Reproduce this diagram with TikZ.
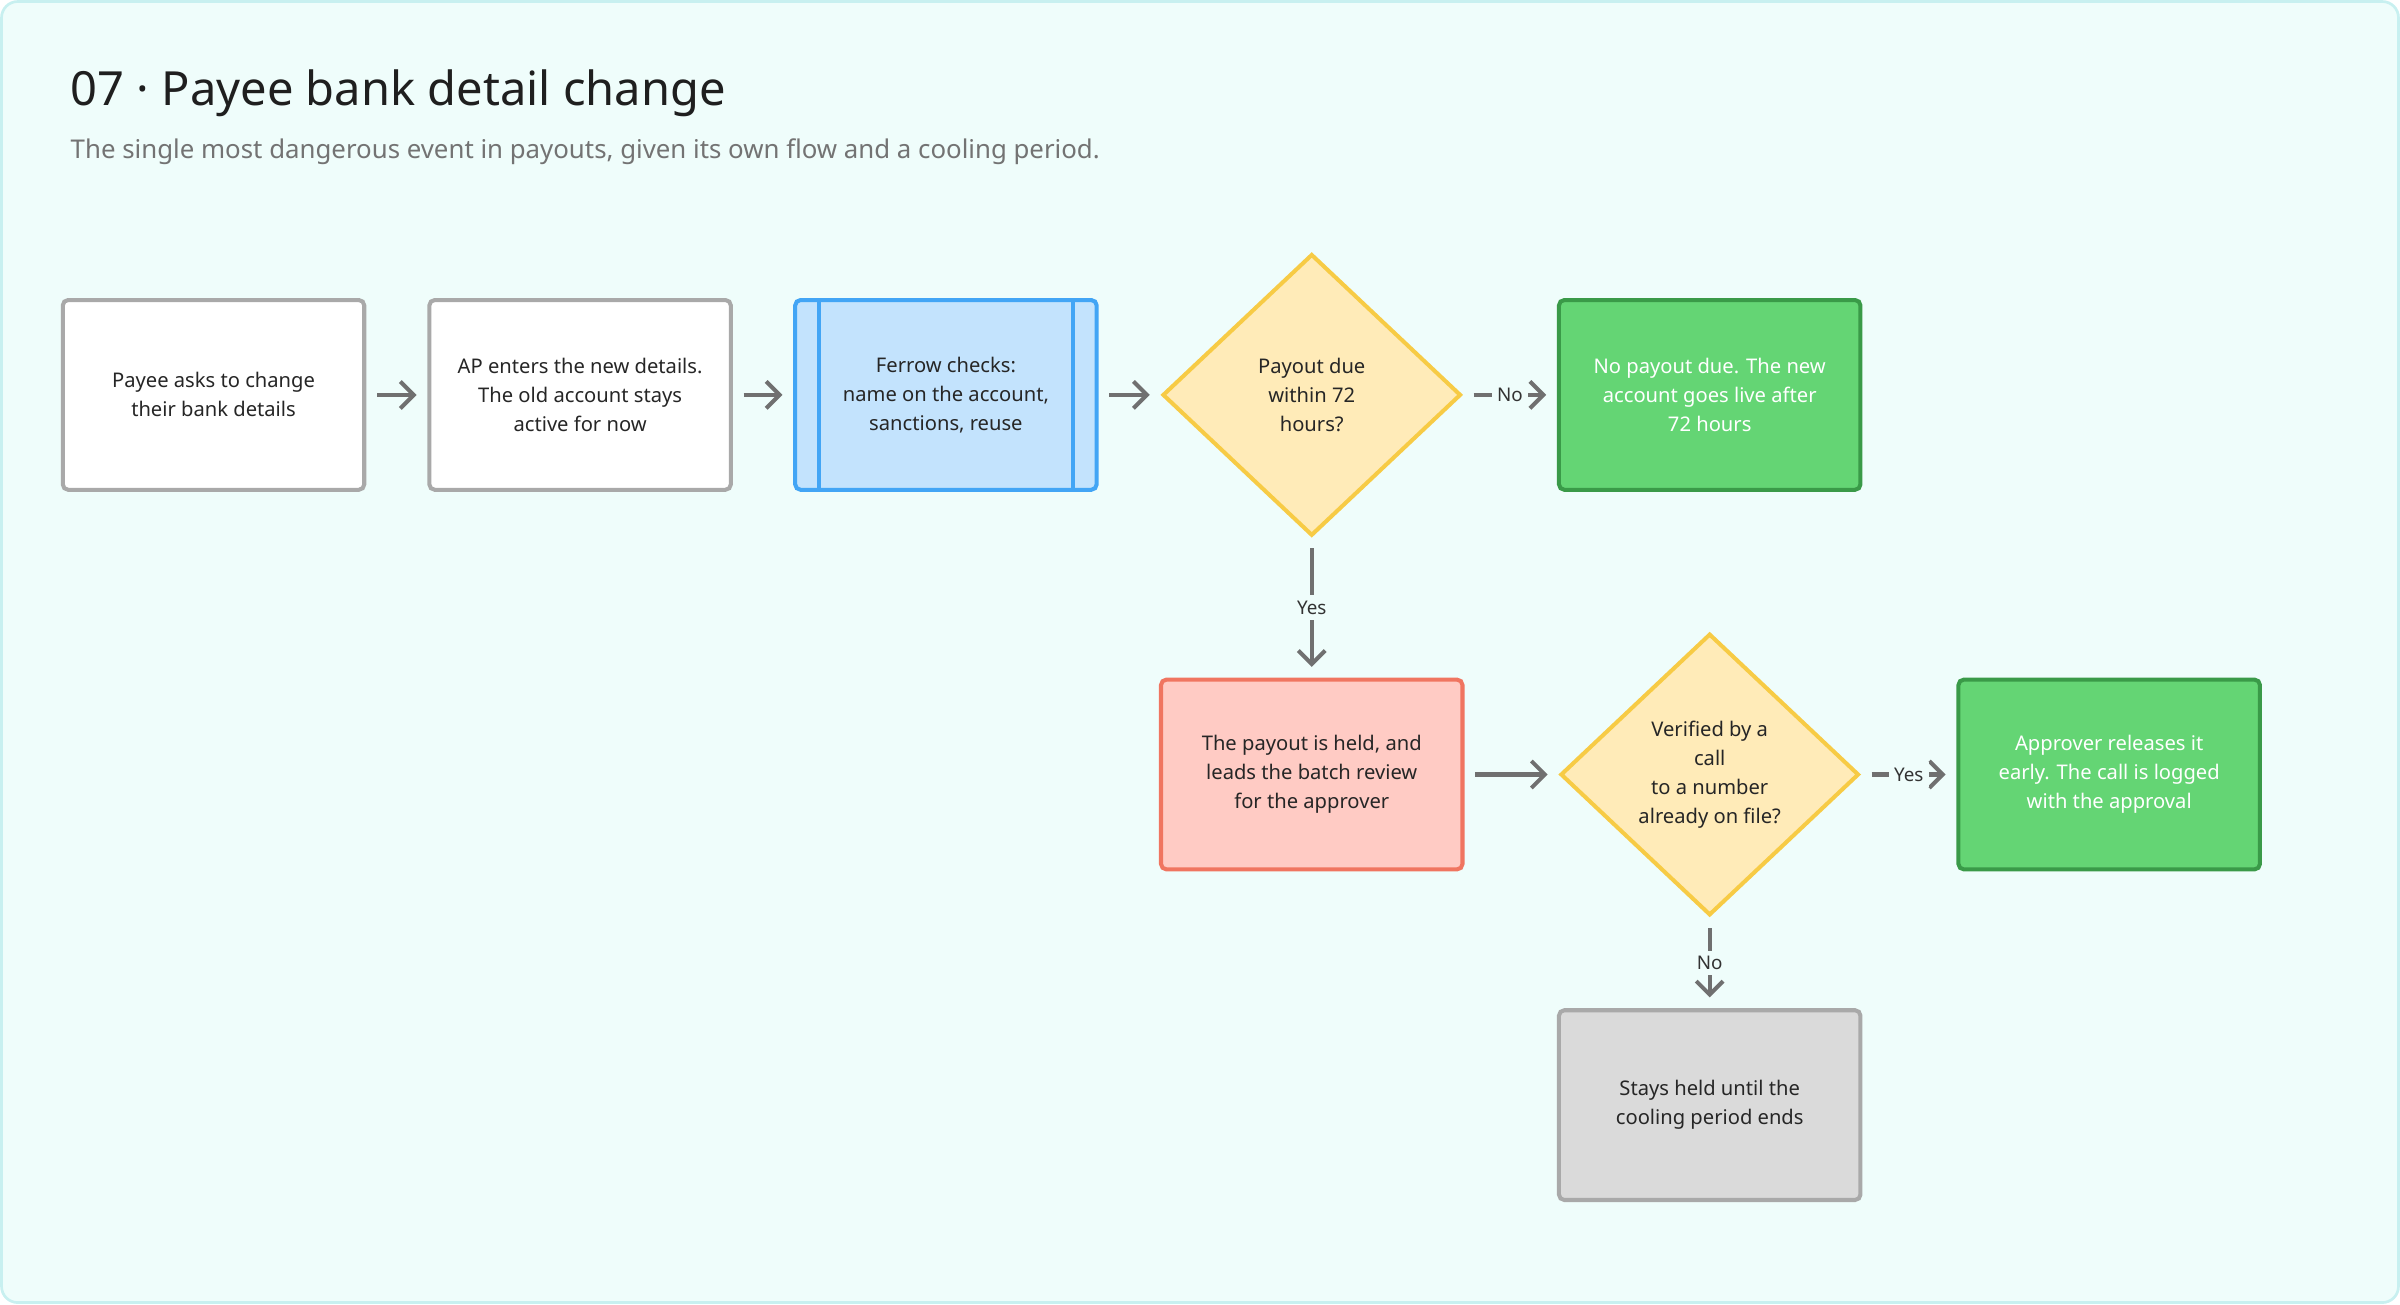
\documentclass[tikz,border=0pt]{standalone}
\usepackage{fontspec}
\setmainfont{Noto Sans}
\usetikzlibrary{shapes.geometric,arrows.meta}
\definecolor{bgc}{HTML}{EFFDFB}
\definecolor{bgline}{HTML}{C8F0F0}
\definecolor{arr}{HTML}{707070}
\definecolor{bluef}{HTML}{C3E3FD}
\definecolor{blued}{HTML}{42A5F5}
\definecolor{yelf}{HTML}{FFEBB8}
\definecolor{yeld}{HTML}{F7CB45}
\definecolor{grnf}{HTML}{64D574}
\definecolor{grnd}{HTML}{3A9A48}
\definecolor{redf}{HTML}{FFCBC4}
\definecolor{redd}{HTML}{F07560}
\definecolor{gryf}{HTML}{DADADA}
\definecolor{gryd}{HTML}{A9A9A9}
\definecolor{subc}{HTML}{737373}
\tikzset{
  box/.style={rectangle,rounded corners=2pt,line width=1.5pt,draw=gryd,fill=white,
    minimum width=3.94cm,minimum height=2.48cm,align=center,font=\fontsize{7.5}{10.8}\selectfont,text=black!85},
  dec/.style={diamond,line width=1.5pt,draw=yeld,fill=yelf,minimum width=3.9cm,minimum height=3.68cm,
    inner sep=0pt,align=center,font=\fontsize{7.5}{10.8}\selectfont,text=black!85},
  ok/.style={box,draw=grnd,fill=grnf,text=white},
  flow/.style={-{Straight Barb[length=5pt,width=10pt]},line width=1.5pt,draw=arr,shorten <=4pt,shorten >=4pt},
  lab/.style={fill=bgc,inner sep=2pt,font=\fontsize{7}{8}\selectfont,text=black!80}
}
\begin{document}
\begin{tikzpicture}[x=0.02cm,y=-0.02cm]
  \draw[fill=bgc,draw=bgline,line width=1pt,rounded corners=6pt] (1,1) rectangle (1567,851);
  \useasboundingbox (0,0) rectangle (1568,852);
  \node[anchor=west,font=\bfseries\fontsize{17.5}{20}\selectfont,text=black!88] (title) at (40,61) {07 · Payee bank detail change};
  \node[anchor=west,font=\fontsize{9.6}{12}\selectfont,text=subc] (sub) at (40,99) {The single most dangerous event in payouts, given its own flow and a cooling period.};
  % top row
  \node[box] (ask) at (139.5,258) {Payee asks to change\\their bank details};
  \node[box] (enter) at (379,258) {AP enters the new details.\\The old account stays\\active for now};
  \node[box,draw=blued,fill=bluef] (check) at (618,258) {Ferrow checks:\\name on the account,\\sanctions, reuse};
  \draw[blued,line width=1.5pt] ([xshift=0.34cm]check.north west) -- ([xshift=0.34cm]check.south west);
  \draw[blued,line width=1.5pt] ([xshift=-0.34cm]check.north east) -- ([xshift=-0.34cm]check.south east);
  \node[dec] (due) at (857,258) {Payout due\\within 72\\hours?};
  \node[ok] (live) at (1117,258) {No payout due. The new\\account goes live after\\72 hours};
  % second row
  \node[box,draw=redd,fill=redf] (held) at (857,506) {The payout is held, and\\leads the batch review\\for the approver};
  \node[dec] (call) at (1117,506) {Verified by a\\call\\to a number\\already on file?};
  \node[ok] (early) at (1378,506) {Approver releases it\\early. The call is logged\\with the approval};
  \node[box,fill=gryf] (wait) at (1117,722) {Stays held until the\\cooling period ends};
  % connectors
  \draw[flow] (ask) -- (enter);
  \draw[flow] (enter) -- (check);
  \draw[flow] (check) -- (due);
  \draw[flow] (due) -- node[lab] {No} (live);
  \draw[flow] (due) -- node[lab] {Yes} (held);
  \draw[flow] (held) -- (call);
  \draw[flow] (call) -- node[lab] {Yes} (early);
  \draw[flow] (call) -- node[lab] {No} (wait);
\end{tikzpicture}
\end{document}
